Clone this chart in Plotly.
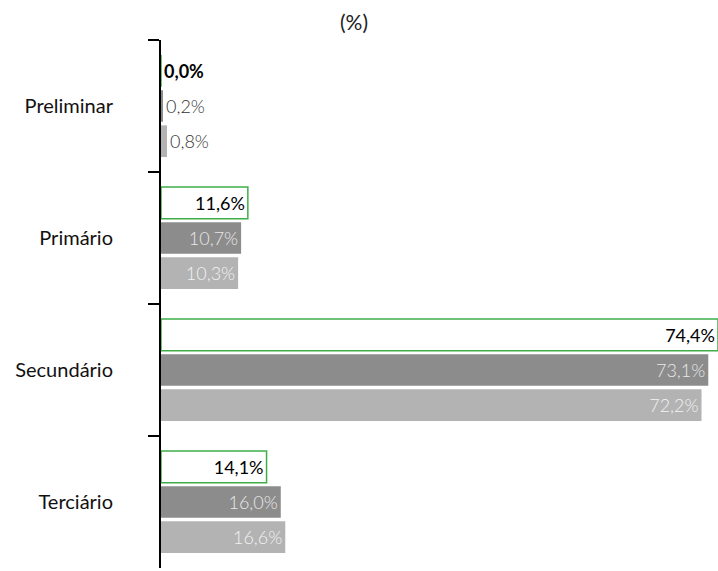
import plotly.graph_objects as go

categories = ["Preliminar", "Primário", "Secundário", "Terciário"]
serie_a = [0.0, 11.6, 74.4, 14.1]
serie_b = [0.2, 10.7, 73.1, 16.0]
serie_c = [0.8, 10.3, 72.2, 16.6]

def fmt(v):
    return f"{v:.1f}".replace(".", ",") + "%"

FONT = "Lato, Open Sans, sans-serif"
LSIZE = 19

fig = go.Figure()
fig.add_trace(go.Bar(
    y=categories, x=serie_a, orientation="h",
    marker=dict(color="white", line=dict(color="#3fae49", width=1.5)),
    text=[fmt(v) for v in serie_a],
    textposition=["outside" if v == 0 else "inside" for v in serie_a],
    insidetextanchor="end",
    insidetextfont=dict(color="#000000", size=LSIZE, family=FONT),
    outsidetextfont=dict(color="#000000", size=LSIZE - 1, family=FONT, weight="bold"),
    cliponaxis=False, showlegend=False,
))
fig.add_trace(go.Bar(
    y=categories, x=serie_b, orientation="h",
    marker=dict(color="#8c8c8c", line=dict(width=0)),
    text=[fmt(v) for v in serie_b], textposition="auto",
    insidetextanchor="end",
    insidetextfont=dict(color="#e8e8e8", size=LSIZE, family=FONT, weight=300),
    outsidetextfont=dict(color="#333333", size=LSIZE, family=FONT, weight=300),
    cliponaxis=False, showlegend=False,
))
fig.add_trace(go.Bar(
    y=categories, x=serie_c, orientation="h",
    marker=dict(color="#b3b3b3", line=dict(width=0)),
    text=[fmt(v) for v in serie_c], textposition="auto",
    insidetextanchor="end",
    insidetextfont=dict(color="#f2f2f2", size=LSIZE, family=FONT, weight=300),
    outsidetextfont=dict(color="#333333", size=LSIZE, family=FONT, weight=300),
    cliponaxis=False, showlegend=False,
))

fig.update_layout(
    width=718, height=571,
    margin=dict(l=161, r=0, t=40, b=3),
    paper_bgcolor="white", plot_bgcolor="white",
    barmode="group", bargap=0.2, bargroupgap=0.1,
    uniformtext=dict(mode="show", minsize=10),
    title=dict(text="(%)", x=0.493, xanchor="center", y=0.96, yanchor="middle",
               font=dict(size=21, color="#222222", family=FONT)),
    xaxis=dict(range=[0, 74.4], visible=False, fixedrange=True),
    yaxis=dict(autorange="reversed", showline=True, linecolor="black", linewidth=2,
               ticks="outside", tickson="boundaries", ticklen=11, tickwidth=1.5,
               tickcolor="black", showgrid=False, zeroline=False,
               ticklabelstandoff=42, fixedrange=True,
               tickfont=dict(size=20, color="#111111", family=FONT)),
)

fig.write_html("out.html", config={"displayModeBar": False},
               post_script="document.body.style.margin='0';document.body.style.overflow='hidden';")
